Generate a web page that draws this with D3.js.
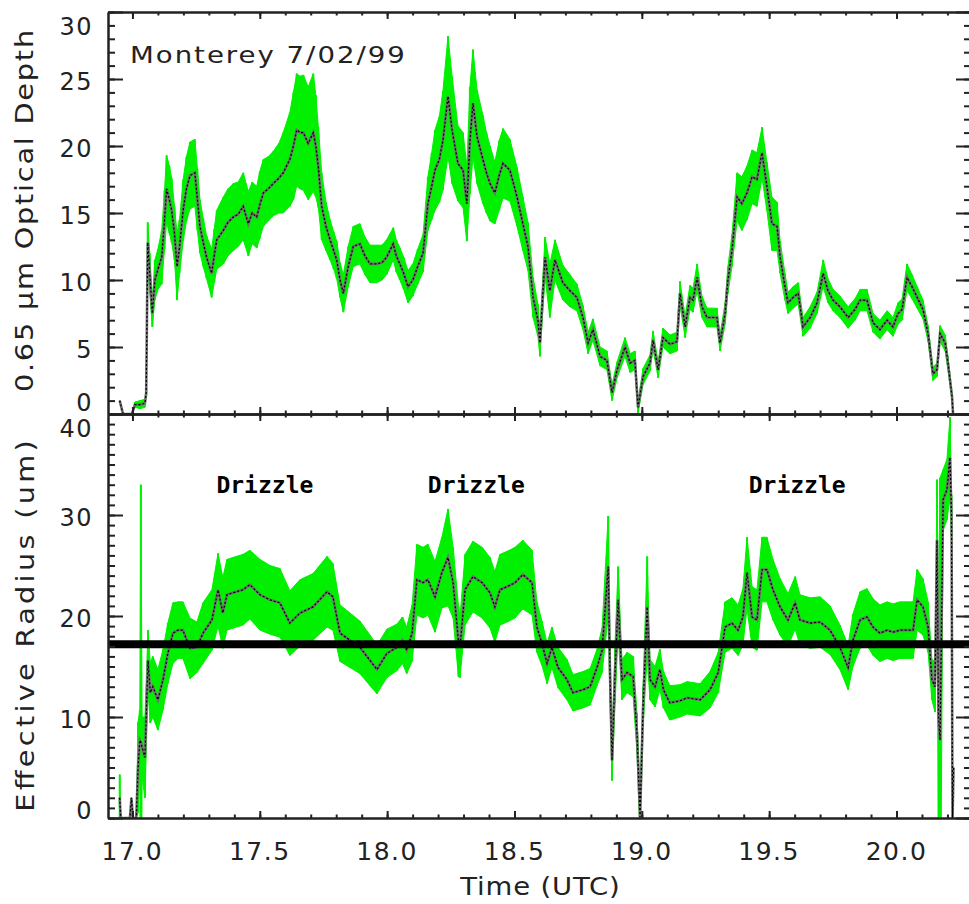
<!DOCTYPE html>
<html>
<head>
<meta charset="utf-8">
<script src="https://cdn.jsdelivr.net/npm/d3@7"></script>
<style>
  body { margin: 0; background: #fff; }
  svg { display: block; }
  text { font-family: "DejaVu Sans", sans-serif; fill: #222; }
</style>
</head>
<body>
<div id="chart"></div>
<script>
// [time UTC, mean, half error]
const odSamples = [
  [16.950, 1.0, 0], [16.963, 0.0, 0], [16.998, 0.0, 0], [17.010, 0.7, 0.2], [17.030, 0.7, 0.3],
  [17.049, 0.8, 0.3], [17.054, 1.6, 0.3], [17.060, 12.8, 1.5], [17.068, 10.5, 1.5], [17.078, 7.5, 1.0],
  [17.088, 10.0, 1.5], [17.100, 10.8, 1.5], [17.115, 11.7, 2.0], [17.126, 14.5, 2.2], [17.134, 16.8, 2.5],
  [17.145, 16.0, 2.5], [17.154, 15.2, 2.4], [17.165, 13.5, 2.0], [17.175, 11.0, 2.5], [17.185, 12.5, 2.0],
  [17.199, 15.2, 2.3], [17.212, 16.8, 2.4], [17.226, 17.8, 2.5], [17.245, 18.0, 2.5], [17.255, 16.0, 2.3],
  [17.265, 14.0, 2.0], [17.278, 12.8, 1.8], [17.291, 11.7, 1.6], [17.311, 10.5, 1.8], [17.321, 11.8, 2.0],
  [17.331, 13.0, 2.2], [17.357, 13.7, 2.5], [17.375, 14.3, 2.5], [17.396, 14.7, 2.5], [17.415, 14.9, 2.4],
  [17.435, 15.5, 2.5], [17.455, 14.2, 2.4], [17.470, 15.0, 2.3], [17.488, 14.7, 2.3], [17.500, 15.6, 2.5],
  [17.514, 16.5, 2.5], [17.533, 16.8, 2.4], [17.553, 17.2, 2.4], [17.575, 17.6, 2.6], [17.592, 18.0, 3.0],
  [17.618, 19.0, 3.5], [17.632, 20.0, 4.0], [17.645, 21.2, 4.2], [17.658, 21.0, 4.2], [17.671, 21.0, 4.3],
  [17.690, 20.2, 4.2], [17.710, 21.0, 4.4], [17.720, 20.0, 3.8], [17.730, 18.4, 3.0], [17.743, 15.5, 2.5],
  [17.760, 14.0, 1.8], [17.776, 13.0, 1.5], [17.790, 12.2, 1.4], [17.802, 11.5, 1.4], [17.815, 10.0, 1.3],
  [17.828, 9.0, 1.4], [17.847, 11.0, 1.5], [17.867, 12.5, 1.5], [17.893, 12.7, 1.5], [17.913, 11.8, 1.4],
  [17.933, 11.2, 1.4], [17.959, 11.2, 1.4], [17.980, 11.3, 1.3], [17.998, 11.7, 1.3], [18.024, 12.7, 1.2],
  [18.036, 11.8, 1.2], [18.050, 11.2, 1.2], [18.065, 10.5, 1.2], [18.082, 9.5, 1.2], [18.101, 10.0, 1.2],
  [18.120, 11.0, 1.3], [18.141, 12.0, 1.4], [18.160, 15.7, 2.0], [18.175, 17.0, 2.5], [18.188, 18.2, 3.0],
  [18.205, 19.0, 3.2], [18.219, 20.4, 3.7], [18.239, 23.7, 4.5], [18.255, 21.2, 4.0], [18.278, 18.7, 2.8],
  [18.298, 18.2, 2.8], [18.313, 15.7, 2.8], [18.325, 20.4, 4.0], [18.337, 23.2, 4.0], [18.353, 20.7, 3.5],
  [18.376, 19.0, 3.3], [18.390, 18.0, 3.0], [18.404, 17.2, 2.8], [18.423, 16.5, 2.3], [18.440, 17.8, 2.6],
  [18.455, 18.7, 2.6], [18.482, 18.2, 2.3], [18.510, 16.2, 2.2], [18.533, 14.2, 2.0], [18.553, 12.5, 1.8],
  [18.573, 8.7, 1.5], [18.592, 7.0, 1.2], [18.600, 5.3, 1.0], [18.620, 11.7, 1.5], [18.639, 9.2, 2.0],
  [18.659, 11.5, 1.5], [18.690, 9.8, 1.3], [18.718, 9.2, 1.2], [18.745, 8.7, 1.0], [18.769, 7.2, 0.9],
  [18.789, 5.3, 0.8], [18.808, 6.3, 0.8], [18.836, 4.3, 0.7], [18.863, 4.0, 0.7], [18.883, 1.6, 0.6],
  [18.903, 3.3, 0.6], [18.934, 5.0, 0.7], [18.954, 3.8, 0.7], [18.973, 4.0, 0.7], [18.985, 0.5, 0.5],
  [19.005, 2.8, 0.6], [19.032, 3.8, 0.6], [19.044, 5.5, 0.7], [19.064, 3.3, 0.6], [19.083, 5.7, 0.7],
  [19.111, 5.2, 0.7], [19.138, 5.4, 0.7], [19.150, 9.0, 0.9], [19.170, 6.5, 0.8], [19.189, 8.7, 0.9],
  [19.201, 8.5, 0.9], [19.217, 10.2, 1.0], [19.236, 8.0, 0.8], [19.256, 7.2, 0.7], [19.295, 7.2, 0.7],
  [19.307, 5.3, 0.6], [19.327, 7.5, 0.8], [19.338, 10.0, 1.0], [19.354, 12.2, 1.2], [19.374, 16.2, 1.8],
  [19.393, 15.7, 2.0], [19.413, 16.5, 2.0], [19.433, 17.7, 2.0], [19.452, 17.5, 2.0], [19.472, 19.5, 1.9],
  [19.491, 17.0, 1.8], [19.511, 14.2, 2.0], [19.531, 14.0, 1.8], [19.543, 11.7, 1.2], [19.562, 9.5, 1.0],
  [19.574, 8.3, 0.8], [19.594, 8.7, 0.8], [19.614, 9.0, 0.8], [19.633, 6.5, 0.7], [19.661, 7.2, 0.8],
  [19.688, 8.3, 0.8], [19.712, 10.5, 1.0], [19.731, 9.2, 0.9], [19.751, 8.5, 0.8], [19.778, 8.0, 0.8],
  [19.810, 7.2, 0.8], [19.837, 7.8, 0.8], [19.857, 8.5, 0.8], [19.884, 8.5, 0.8], [19.908, 6.8, 0.7],
  [19.935, 6.3, 0.7], [19.963, 7.0, 0.7], [19.986, 6.5, 0.7], [20.006, 7.5, 0.8], [20.022, 7.8, 0.8],
  [20.041, 10.2, 1.0], [20.061, 9.5, 0.9], [20.081, 8.7, 0.8], [20.104, 7.8, 0.7], [20.124, 6.0, 0.6],
  [20.143, 3.0, 0.5], [20.159, 3.3, 0.5], [20.171, 6.0, 0.6], [20.191, 5.3, 0.6], [20.202, 3.8, 0.5],
  [20.218, 1.3, 0.3], [20.222, 0.0, 0]
]

const reSamples = [
  [16.950, 2.0, 2.3], [16.954, 0.0, 0], [16.990, 0.0, 0], [16.996, 2.0, 0], [17.002, 0.0, 0],
  [17.015, 0.0, 0], [17.022, 5.0, 4.5], [17.029, 7.7, 3.0], [17.033, 7.5, 25.5], [17.038, 7.0, 3.0],
  [17.049, 6.0, 4.0], [17.061, 15.6, 3.0], [17.070, 12.4, 3.0], [17.080, 13.0, 3.0], [17.100, 11.7, 3.0],
  [17.120, 13.7, 3.0], [17.139, 16.3, 3.0], [17.159, 18.3, 3.0], [17.179, 18.6, 2.8], [17.198, 18.6, 2.8],
  [17.226, 16.8, 3.0], [17.253, 16.9, 2.5], [17.277, 18.3, 3.0], [17.312, 19.6, 3.0], [17.336, 22.6, 3.6],
  [17.355, 20.3, 3.5], [17.371, 22.1, 3.5], [17.395, 22.3, 3.5], [17.434, 22.6, 3.5], [17.461, 23.1, 3.4],
  [17.501, 22.1, 3.5], [17.540, 21.6, 3.4], [17.579, 21.3, 3.4], [17.618, 19.3, 3.2], [17.658, 20.3, 3.3],
  [17.709, 20.9, 3.3], [17.764, 22.4, 3.5], [17.787, 21.9, 3.3], [17.815, 18.3, 2.8], [17.854, 17.6, 2.7],
  [17.893, 16.9, 2.6], [17.933, 15.6, 2.5], [17.960, 14.7, 2.4], [17.999, 16.3, 2.4], [18.039, 16.9, 2.3],
  [18.060, 17.6, 2.3], [18.077, 16.6, 2.3], [18.098, 18.3, 2.8], [18.117, 23.6, 3.5], [18.141, 23.3, 3.5],
  [18.160, 23.6, 3.5], [18.188, 21.9, 3.5], [18.215, 24.3, 3.5], [18.239, 25.8, 4.8], [18.259, 23.3, 3.5],
  [18.280, 17.5, 3.5], [18.286, 16.9, 3.0], [18.306, 22.6, 3.5], [18.337, 23.9, 3.5], [18.373, 23.3, 3.5],
  [18.404, 22.3, 3.5], [18.423, 20.9, 3.5], [18.443, 22.6, 3.5], [18.471, 22.9, 3.5], [18.502, 23.3, 3.5],
  [18.533, 24.1, 3.4], [18.569, 23.3, 3.2], [18.588, 18.9, 2.5], [18.608, 17.3, 2.2], [18.628, 15.3, 2.0],
  [18.647, 16.9, 2.0], [18.671, 14.9, 2.0], [18.706, 13.7, 2.0], [18.730, 12.4, 1.8], [18.769, 12.7, 1.8],
  [18.797, 13.0, 1.8], [18.824, 14.9, 1.8], [18.844, 16.6, 2.2], [18.868, 24.9, 5.0], [18.875, 14.4, 3.0],
  [18.883, 5.7, 2.0], [18.895, 14.4, 3.0], [18.907, 21.6, 3.3], [18.922, 13.7, 2.0], [18.942, 14.4, 2.0],
  [18.966, 14.0, 2.0], [18.981, 8.4, 2.0], [18.993, 0.1, 2.0], [19.005, 11.0, 2.0], [19.021, 20.9, 5.0],
  [19.032, 13.7, 2.0], [19.052, 13.0, 2.0], [19.071, 14.7, 2.0], [19.085, 12.7, 1.8], [19.110, 11.4, 1.7],
  [19.150, 11.6, 1.6], [19.178, 11.9, 1.6], [19.229, 11.7, 1.6], [19.268, 12.7, 1.8], [19.300, 14.4, 2.0],
  [19.327, 18.9, 2.5], [19.354, 19.3, 2.5], [19.378, 18.6, 2.5], [19.397, 19.9, 2.8], [19.413, 24.3, 3.5],
  [19.433, 19.9, 3.0], [19.452, 19.6, 3.0], [19.472, 24.6, 3.2], [19.491, 24.6, 3.2], [19.515, 22.6, 3.0],
  [19.543, 20.9, 2.8], [19.574, 19.6, 2.6], [19.602, 21.3, 2.6], [19.621, 19.6, 2.5], [19.661, 19.3, 2.5],
  [19.700, 19.4, 2.5], [19.739, 18.6, 2.4], [19.778, 16.9, 2.2], [19.810, 14.9, 2.2], [19.829, 17.6, 2.6],
  [19.857, 19.6, 2.8], [19.884, 19.9, 2.8], [19.908, 18.9, 2.8], [19.935, 18.3, 2.8], [19.963, 18.6, 2.8],
  [19.986, 18.4, 2.8], [20.014, 18.6, 2.8], [20.041, 18.6, 2.8], [20.065, 18.6, 2.8], [20.081, 21.6, 3.0],
  [20.104, 20.9, 2.8], [20.124, 18.9, 2.5], [20.139, 13.7, 2.0], [20.151, 13.0, 2.5], [20.159, 27.5, 6.0],
  [20.165, 10.0, 10.0], [20.171, 7.7, 26.0], [20.183, 31.5, 3.0], [20.198, 32.5, 3.0], [20.210, 35.7, 4.0],
  [20.216, 30.0, 2.0], [20.220, 0.0, 0], [20.224, 5.0, 0]
]

const xTicks = [17.0, 17.5, 18.0, 18.5, 19.0, 19.5, 20.0]
const odTicks = [0, 5, 10, 15, 20, 25, 30]
const reTicks = [0, 10, 20, 30, 40]
const drizzleLabels = [[17.52, 'Drizzle'], [18.35, 'Drizzle'], [19.61, 'Drizzle']]
const drizzleLevel = 32.2
const drizzleThreshold = 17.2
const chartTitle = 'Monterey 7/02/99'

const width = 969
const height = 904
const green = '#00f000'
const ink = '#222'

const svg = d3.select('#chart').append('svg')
  .attr('width', width)
  .attr('height', height)

const x = d3.scaleLinear().domain([16.904, 20.2925]).range([108, 971])
const yOd = d3.scaleLinear().domain([0, 30]).range([414, 12])
const yRe = d3.scaleLinear().domain([0, 40]).range([818, 414])

function styleAxis (g) {
  g.selectAll('path, line').attr('stroke', ink).attr('stroke-width', 2)
  g.selectAll('text').remove()
}

function drawPanel (id, y, samples) {
  const [x0, x1] = x.range()
  const [yb, yt] = y.range()

  svg.append('clipPath').attr('id', id)
    .append('rect')
    .attr('x', x0).attr('y', yt)
    .attr('width', x1 - x0).attr('height', yb - yt)

  const plot = svg.append('g').attr('clip-path', `url(#${id})`)

  const band = d3.area()
    .x(d => x(d[0]))
    .y0(d => y(d[1] - d[2]))
    .y1(d => y(d[1] + d[2]))

  plot.append('path')
    .datum(samples)
    .attr('d', band)
    .attr('fill', green)
    .attr('stroke', green)
    .attr('stroke-width', 1)

  // error bars, one per sample
  plot.append('g')
    .selectAll('line')
    .data(samples.filter(d => d[2] > 0))
    .join('line')
    .attr('x1', d => x(d[0]))
    .attr('x2', d => x(d[0]))
    .attr('y1', d => y(d[1] - d[2]))
    .attr('y2', d => y(d[1] + d[2]))
    .attr('stroke', green)
    .attr('stroke-width', 2)

  const mean = d3.line().x(d => x(d[0])).y(d => y(d[1]))

  plot.append('path')
    .datum(samples)
    .attr('d', mean)
    .attr('fill', 'none')
    .attr('stroke', '#6e6e6e')
    .attr('stroke-width', 2.6)

  plot.append('path')
    .datum(samples)
    .attr('d', mean)
    .attr('fill', 'none')
    .attr('stroke', '#000')
    .attr('stroke-width', 1.2)
    .attr('stroke-dasharray', '2,2')

  return plot
}

function drawFrame (y, ticks, minorStep, lowShift) {
  const [x0, x1] = x.range()
  const [yb, yt] = y.range()
  const [v0, v1] = y.domain()
  const minor = d3.range(v0, v1 + minorStep / 2, minorStep)
  const xMinor = d3.range(17.0, 20.25, 0.1)

  svg.append('g').attr('transform', `translate(${x0},0)`)
    .call(d3.axisLeft(y).tickValues(minor).tickSize(-7).tickSizeOuter(0).tickFormat(''))
    .call(styleAxis)
  svg.append('g').attr('transform', `translate(${x0},0)`)
    .call(d3.axisLeft(y).tickValues(ticks).tickSize(-15).tickSizeOuter(0).tickFormat(''))
    .call(styleAxis)
  svg.append('g').attr('transform', `translate(${x1},0)`)
    .call(d3.axisRight(y).tickValues(minor).tickSize(-7).tickSizeOuter(0).tickFormat(''))
    .call(styleAxis)
  svg.append('g').attr('transform', `translate(${x1},0)`)
    .call(d3.axisRight(y).tickValues(ticks).tickSize(-15).tickSizeOuter(0).tickFormat(''))
    .call(styleAxis)

  for (const [pos, make] of [[yt, d3.axisTop], [yb, d3.axisBottom]]) {
    svg.append('g').attr('transform', `translate(0,${pos})`)
      .call(make(x).tickValues(xMinor).tickSize(-3.5).tickSizeOuter(0).tickFormat(''))
      .call(styleAxis)
    svg.append('g').attr('transform', `translate(0,${pos})`)
      .call(make(x).tickValues(xTicks).tickSize(-7).tickSizeOuter(0).tickFormat(''))
      .call(styleAxis)
  }

  svg.append('g')
    .selectAll('text')
    .data(ticks)
    .join('text')
    .attr('x', 93)
    .attr('y', d => {
      if (d === v1) return y(d) + 23
      if (d === v0) return y(d) + lowShift
      return y(d) + 11
    })
    .attr('text-anchor', 'end')
    .attr('font-size', 24)
    .attr('letter-spacing', 1.5)
    .text(d => d)
}

drawPanel('clip-od', yOd, odSamples)
const rePlot = drawPanel('clip-re', yRe, reSamples)

rePlot.append('line')
  .attr('x1', x.range()[0])
  .attr('x2', x.range()[1])
  .attr('y1', yRe(drizzleThreshold))
  .attr('y2', yRe(drizzleThreshold))
  .attr('stroke', '#000')
  .attr('stroke-width', 8)

drawFrame(yOd, odTicks, 1, -3)
drawFrame(yRe, reTicks, 1, 1)

svg.append('g')
  .selectAll('text')
  .data(xTicks)
  .join('text')
  .attr('x', d => x(d))
  .attr('y', 860)
  .attr('text-anchor', 'middle')
  .attr('font-size', 25)
  .attr('letter-spacing', 1.5)
  .text(d => d.toFixed(1))

svg.append('g')
  .selectAll('text')
  .data(drizzleLabels)
  .join('text')
  .attr('x', d => x(d[0]))
  .attr('y', yRe(drizzleLevel))
  .attr('text-anchor', 'middle')
  .style('font-family', '"DejaVu Sans Mono", monospace')
  .style('font-weight', 'bold')
  .style('fill', '#000')
  .attr('font-size', 23)
  .text(d => d[1])

// wide glyphs like the original plotting font
svg.append('text')
  .attr('transform', 'translate(130,63) scale(1.2,1)')
  .attr('font-size', 23)
  .attr('textLength', 229)
  .attr('lengthAdjust', 'spacing')
  .text(chartTitle)

svg.append('text')
  .attr('transform', 'translate(33,211) rotate(-90) scale(1.15,1)')
  .attr('text-anchor', 'middle')
  .attr('font-size', 25)
  .attr('textLength', 315)
  .attr('lengthAdjust', 'spacing')
  .text('0.65 \u03bcm Optical Depth')

svg.append('text')
  .attr('transform', 'translate(34,626) rotate(-90) scale(1.15,1)')
  .attr('text-anchor', 'middle')
  .attr('font-size', 25)
  .attr('textLength', 323)
  .attr('lengthAdjust', 'spacing')
  .text('Effective Radius (um)')

svg.append('text')
  .attr('transform', 'translate(540,895) scale(1.1,1)')
  .attr('text-anchor', 'middle')
  .attr('font-size', 25)
  .attr('textLength', 145)
  .attr('lengthAdjust', 'spacing')
  .text('Time (UTC)')
</script>
</body>
</html>
